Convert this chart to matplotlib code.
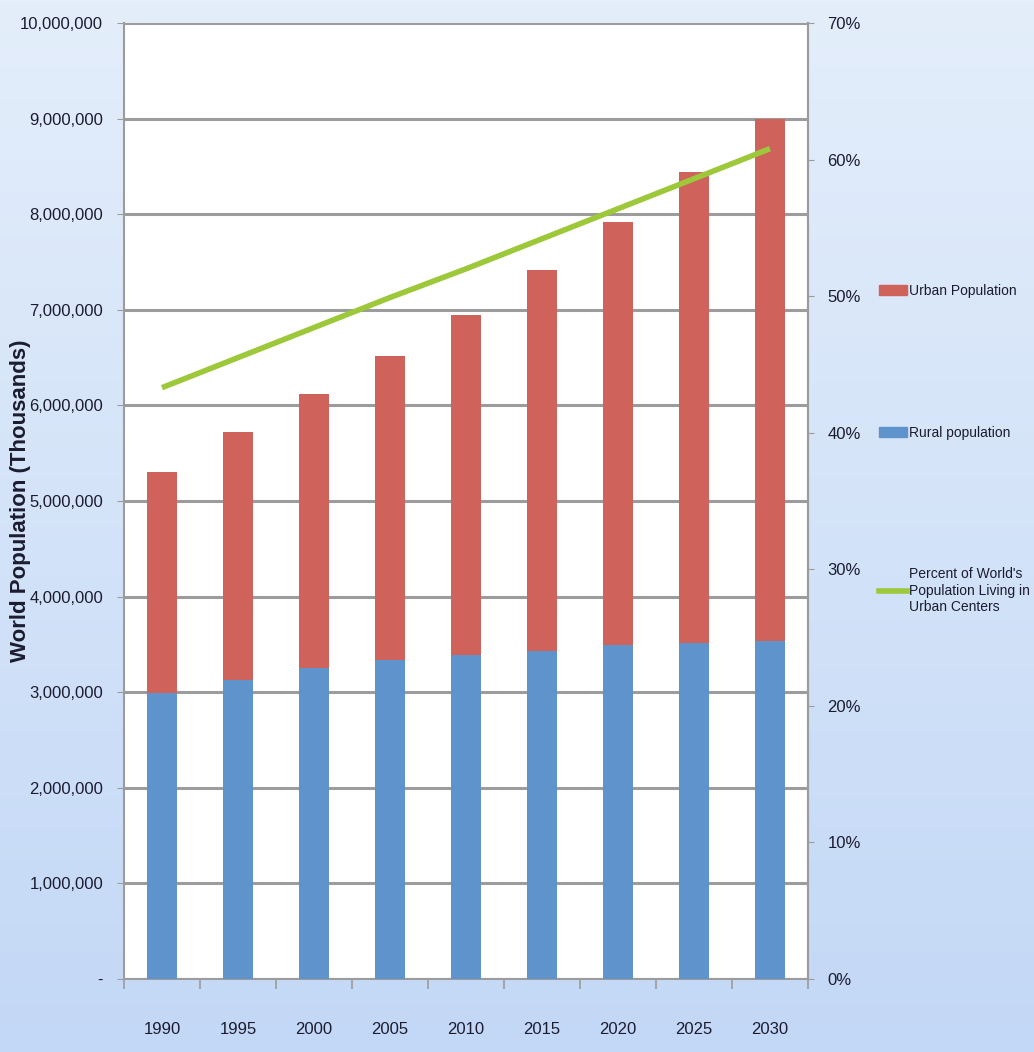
import numpy as np
import matplotlib
matplotlib.use('Agg')
import matplotlib.pyplot as plt
from matplotlib.patches import Patch
from matplotlib.lines import Line2D
from matplotlib.ticker import FuncFormatter

years = ['1990', '1995', '2000', '2005', '2010', '2015', '2020', '2025', '2030']
# thousands
rural = [2990000, 3130000, 3250000, 3340000, 3390000, 3430000, 3490000, 3510000, 3540000]
urban = [2310000, 2590000, 2870000, 3180000, 3560000, 3990000, 4430000, 4930000, 5460000]
pct_urban = [43.3, 45.5, 47.7, 49.9, 52.0, 54.2, 56.4, 58.6, 60.8]

font = ['Liberation Sans', 'DejaVu Sans']
txt = '#1c1c30'
c_urban = '#d0625c'
c_rural = '#5e94cb'
c_line = '#9cc83a'
c_grid = '#9c9c9c'

fig = plt.figure(figsize=(10.34, 10.52), dpi=100)

# gradient background
bg = fig.add_axes([0, 0, 1, 1], zorder=-10)
grad = np.linspace(0, 1, 256).reshape(-1, 1)
cmap = matplotlib.colors.LinearSegmentedColormap.from_list('bg', ['#e4eefb', '#c3d8f6'])
bg.imshow(grad, aspect='auto', cmap=cmap, extent=[0, 1, 0, 1], origin='upper')
bg.axis('off')

ax = fig.add_axes([0.1199, 0.0694, 0.6615, 0.9087])
ax.set_facecolor('white')
x = np.arange(len(years))
ax.bar(x, rural, width=0.4, color=c_rural, zorder=3)
ax.bar(x, urban, width=0.4, bottom=rural, color=c_urban, zorder=3)
ax.set_xlim(-0.5, len(years) - 0.5)
ax.set_ylim(0, 10000000)
ax.set_yticks(np.arange(0, 10000001, 1000000))
ax.yaxis.set_major_formatter(FuncFormatter(lambda v, p: '-' if v == 0 else f'{int(v):,}'))
ax.grid(axis='y', color=c_grid, linewidth=2.2, zorder=1)
ax.set_axisbelow(True)

ax.set_xticks(x)
ax.set_xticklabels(years)
ax.set_xticks(np.arange(-0.5, len(years), 1), minor=True)
ax.tick_params(axis='x', which='major', length=0, pad=31)
ax.tick_params(axis='x', which='minor', length=7, color=c_grid, width=1.2)
ax.tick_params(axis='y', length=5, color=c_grid, pad=10)
for lab in ax.get_xticklabels() + ax.get_yticklabels():
    lab.set_family(font)
    lab.set_fontsize(12)
    lab.set_color(txt)
ax.spines['top'].set_visible(False)
for side in ['left', 'right', 'bottom']:
    ax.spines[side].set_color(c_grid)
    ax.spines[side].set_linewidth(1.5)

ax.set_ylabel('World Population (Thousands)', fontsize=16, fontweight='bold',
              color=txt, family=font, va='center')
ax.yaxis.set_label_coords(-0.152, 0.5)

ax2 = ax.twinx()
ax2.plot(x, pct_urban, color=c_line, linewidth=4, zorder=5, solid_capstyle='butt')
ax2.set_ylim(0, 70)
ax2.set_yticks(np.arange(0, 71, 10))
ax2.yaxis.set_major_formatter(FuncFormatter(lambda v, p: f'{int(v)}%'))
ax2.tick_params(axis='y', length=4, color=c_grid, pad=10)
for lab in ax2.get_yticklabels():
    lab.set_family(font)
    lab.set_fontsize(12)
    lab.set_color(txt)
for side in ['top', 'left', 'bottom']:
    ax2.spines[side].set_visible(False)
ax2.spines['right'].set_color(c_grid)
ax2.spines['right'].set_linewidth(1.5)

handles = [Patch(color=c_urban), Patch(color=c_rural), Line2D([], [], color=c_line, linewidth=4)]
labels = ['Urban Population', 'Rural population',
          "Percent of World's\nPopulation Living in\nUrban Centers"]
leg = fig.legend(handles, labels, loc='upper left', bbox_to_anchor=(0.838, 0.742),
                 frameon=False, labelspacing=9.2, handlelength=2.0, handleheight=0.8,
                 handletextpad=0.15, prop={'family': font, 'size': 10})
for t in leg.get_texts():
    t.set_color(txt)

fig.savefig('out.png', dpi=100)
